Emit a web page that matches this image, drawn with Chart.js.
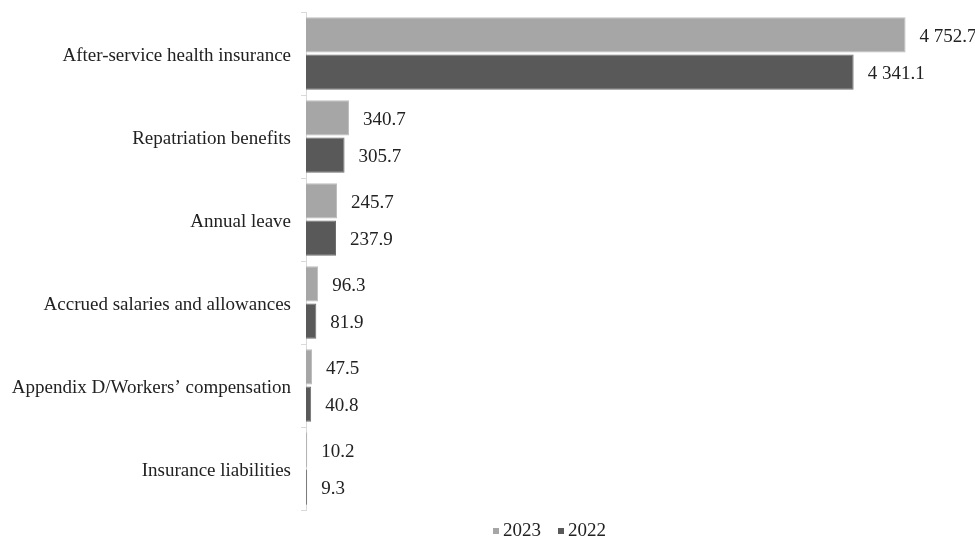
<!DOCTYPE html>
<html>
<head>
<meta charset="utf-8">
<script src="https://cdn.jsdelivr.net/npm/chart.js@4.4.1/dist/chart.umd.min.js"></script>
<style>
  html, body { margin: 0; padding: 0; background: #ffffff; }
  #wrap { width: 975px; height: 539px; }
</style>
</head>
<body>
<div id="wrap"><canvas id="chart" width="975" height="539"></canvas></div>
<script>
const categories = [
  'After-service health insurance',
  'Repatriation benefits',
  'Annual leave',
  'Accrued salaries and allowances',
  'Appendix D/Workers\u2019 compensation',
  'Insurance liabilities'
]
const values2023 = [4752.7, 340.7, 245.7, 96.3, 47.5, 10.2]
const values2022 = [4341.1, 305.7, 237.9, 81.9, 40.8, 9.3]

const FONT = '"Liberation Serif", "Times New Roman", serif'
const FONT_SIZE = 19

const formatValue = (v) => {
  const parts = v.toFixed(1).split('.')
  parts[0] = parts[0].replace(/\B(?=(\d{3})+(?!\d))/g, ' ')
  return parts.join('.')
}

// draws the value text just right of every bar
const valueLabels = {
  id: 'valueLabels',
  afterDatasetsDraw(chart) {
    const ctx = chart.ctx
    ctx.save()
    ctx.font = FONT_SIZE + 'px ' + FONT
    ctx.fillStyle = '#222222'
    ctx.textAlign = 'left'
    ctx.textBaseline = 'middle'
    chart.data.datasets.forEach((ds, i) => {
      chart.getDatasetMeta(i).data.forEach((bar, j) => {
        ctx.fillText(formatValue(ds.data[j]), bar.x + 14, bar.y + 2)
      })
    })
    ctx.restore()
  }
}

// small legend under the plot, placed like the original (tight square + text)
const bottomLegend = {
  id: 'bottomLegend',
  afterDraw(chart) {
    const ctx = chart.ctx
    ctx.save()
    ctx.font = FONT_SIZE + 'px ' + FONT
    ctx.textBaseline = 'middle'
    ctx.textAlign = 'left'
    const y = 531
    let x = 493
    chart.data.datasets.forEach((ds) => {
      ctx.fillStyle = ds.backgroundColor
      ctx.fillRect(x, y - 3, 6, 6)
      ctx.fillStyle = '#222222'
      ctx.fillText(ds.label, x + 10, y)
      x += 10 + ctx.measureText(ds.label).width + 17
    })
    ctx.restore()
  }
}

new Chart(document.getElementById('chart'), {
  type: 'bar',
  data: {
    labels: categories,
    datasets: [
      {
        label: '2023',
        data: values2023,
        backgroundColor: '#a6a6a6',
        borderColor: '#bdbdbd',
        borderWidth: 1,
        categoryPercentage: 0.9,
        barPercentage: 0.94
      },
      {
        label: '2022',
        data: values2022,
        backgroundColor: '#595959',
        borderColor: '#6e6e6e',
        borderWidth: 1,
        categoryPercentage: 0.9,
        barPercentage: 0.94
      }
    ]
  },
  options: {
    indexAxis: 'y',
    responsive: false,
    animation: false,
    layout: { padding: { left: 0, right: 13, top: 12, bottom: 29 } },
    scales: {
      x: {
        display: false,
        min: 0,
        max: 5200
      },
      y: {
        afterFit: (scale) => {
          scale.width = 306
          scale.paddingTop = 0
          scale.paddingBottom = 0
        },
        border: { display: true, color: '#d9d9d9', width: 1 },
        grid: {
          offset: true,
          drawOnChartArea: false,
          drawTicks: true,
          tickLength: 5,
          color: '#d9d9d9'
        },
        ticks: {
          color: '#222222',
          padding: 10,
          labelOffset: 3,
          font: { family: FONT, size: FONT_SIZE }
        }
      }
    },
    plugins: {
      legend: { display: false },
      tooltip: { enabled: false }
    }
  },
  plugins: [valueLabels, bottomLegend]
})
</script>
</body>
</html>
